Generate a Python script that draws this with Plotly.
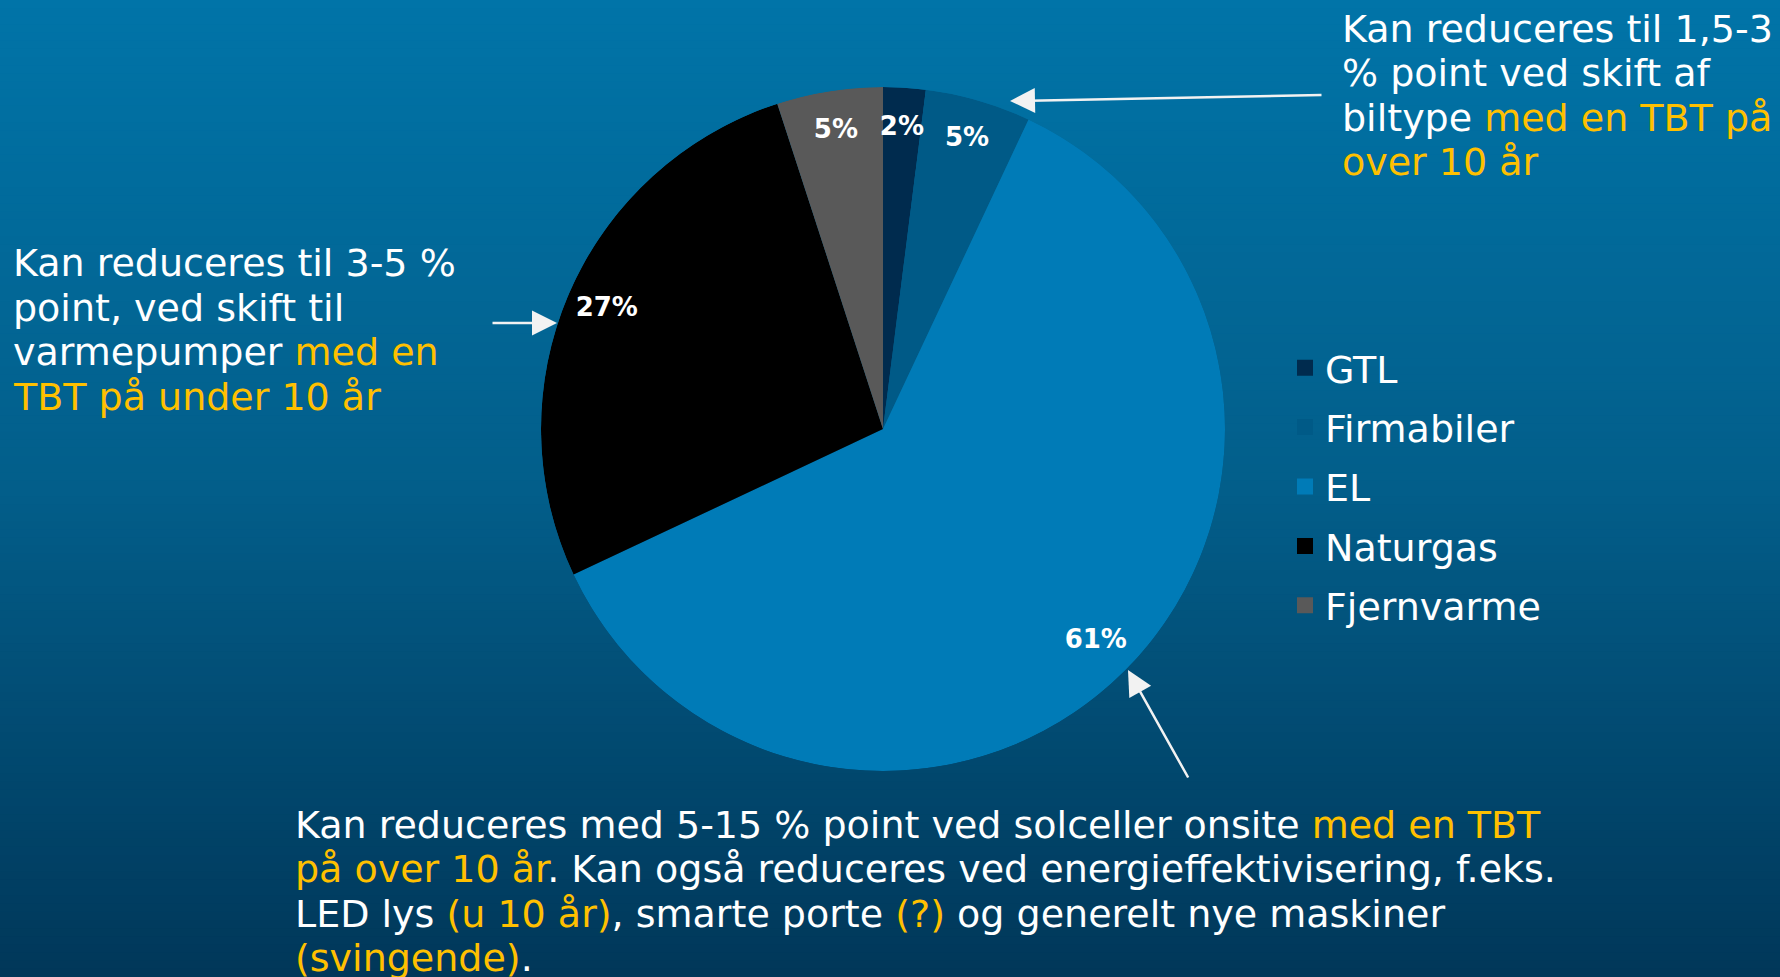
import plotly.graph_objects as go

# data
labels = ["GTL", "Firmabiler", "EL", "Naturgas", "Fjernvarme"]
values = [2, 5, 61, 27, 5]
colors = ["#002b4e", "#005a87", "#007bb7", "#000000", "#595959"]

YEL = "#FFC000"


def hl(s):
    return f"<span style='color:{YEL}'>{s}</span>"


note_top = [
    "Kan reduceres til 1,5-3",
    "% point ved skift af",
    "biltype " + hl("med en TBT på"),
    hl("over 10 år"),
]
note_left = [
    "Kan reduceres til 3-5 %",
    "point, ved skift til",
    "varmepumper " + hl("med en"),
    hl("TBT på under 10 år"),
]
note_bottom = [
    "Kan reduceres med 5-15 % point ved solceller onsite " + hl("med en TBT"),
    hl("på over 10 år") + ". Kan også reduceres ved energieffektivisering, f.eks.",
    "LED lys " + hl("(u 10 år)") + ", smarte porte " + hl("(?)") + " og generelt nye maskiner",
    hl("(svingende)") + ".",
]

W, H = 1780, 977
FONT = "Verdana, DejaVu Sans, sans-serif"


def fx(x):
    return x / W


def fy(y):
    return 1 - y / H


cx, cy, R = 883, 429, 342
dom = dict(x=[fx(cx - R), fx(cx + R)], y=[fy(cy + R), fy(cy - R)])

# pie slices drawn as polar bars: angle span from each share
total = sum(values)
mids, spans = [], []
acc = 0
for v in values:
    spans.append(v / total * 360)
    mids.append((acc + v / 2) / total * 360)
    acc += v

fig = go.Figure()

fig.add_trace(go.Barpolar(
    r=[1] * len(values),
    theta=mids,
    width=spans,
    marker=dict(color=colors, line=dict(width=0)),
    customdata=labels,
    hovertemplate="%{customdata}<extra></extra>",
    showlegend=False,
))

fig.add_trace(go.Scatterpolar(
    r=[0.88] * len(values),
    theta=mids,
    mode="text",
    text=[f"<b>{round(v / total * 100)}%</b>" for v in values],
    textfont=dict(color="white", size=26, family=FONT),
    showlegend=False,
    hoverinfo="skip",
))

# legend entries
for lab, col in zip(labels, colors):
    fig.add_trace(go.Scatter(
        x=[None], y=[None], mode="markers", name=lab, legendgroup=lab,
        marker=dict(symbol="square", size=19, color=col),
    ))

# background gradient
stops = [(0.0, (1, 116, 168)), (0.5, (2, 94, 138)), (1.0, (1, 55, 89))]
shapes = []
n = 120
for i in range(n):
    t = (i + 0.5) / n
    for (t0, c0), (t1, c1) in zip(stops[:-1], stops[1:]):
        if t0 <= t <= t1:
            f = (t - t0) / (t1 - t0)
            c = tuple(round(a + (b - a) * f) for a, b in zip(c0, c1))
    shapes.append(dict(
        type="rect", xref="paper", yref="paper", layer="below",
        x0=0, x1=1, y0=1 - (i + 1) / n - 0.001, y1=1 - i / n,
        fillcolor=f"rgb{c}", line=dict(width=0),
    ))

annotations = []


def add_lines(lines, x, y0, step):
    for k, s in enumerate(lines):
        annotations.append(dict(
            x=fx(x), y=fy(y0 + k * step), xref="paper", yref="paper",
            xanchor="left", yanchor="middle", text=s, showarrow=False,
            font=dict(color="white", size=38, family=FONT),
        ))


add_lines(note_top, 1340, 29, 44.3)
add_lines(note_left, 11, 263, 44.7)
add_lines(note_bottom, 293, 825, 44.3)

# arrows: head position, tail offset in pixels
for hx, hy, ax, ay in [(1010, 101, 313, -6), (557, 323, -66, 0), (1128, 670, 61, 109)]:
    annotations.append(dict(
        x=fx(hx), y=fy(hy), xref="paper", yref="paper", text="",
        showarrow=True, ax=ax, ay=ay, arrowhead=2, arrowsize=2,
        arrowwidth=2.5, arrowcolor="#f2f2f2", standoff=0,
    ))

fig.update_layout(
    width=W, height=H,
    margin=dict(l=0, r=0, t=0, b=0),
    paper_bgcolor="rgb(2,94,138)",
    plot_bgcolor="rgba(0,0,0,0)",
    shapes=shapes,
    annotations=annotations,
    xaxis=dict(visible=False),
    yaxis=dict(visible=False),
    polar=dict(
        domain=dom, bgcolor="rgba(0,0,0,0)", bargap=0,
        radialaxis=dict(visible=False, range=[0, 1]),
        angularaxis=dict(visible=False, rotation=90, direction="clockwise"),
    ),
    legend=dict(
        x=fx(1285), y=fy(336.5), xanchor="left", yanchor="top",
        font=dict(color="white", size=38, family=FONT),
        bgcolor="rgba(0,0,0,0)", tracegroupgap=7,
    ),
    showlegend=True,
)

fig.write_html("out.html", config={"displayModeBar": False},
               post_script="document.body.style.margin='0';")
